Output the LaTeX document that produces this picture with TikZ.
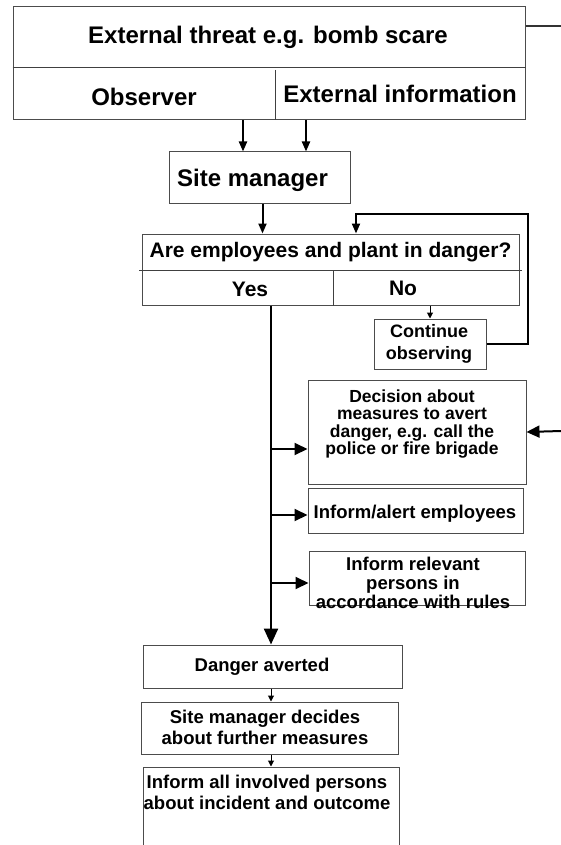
\documentclass[tikz,border=0pt]{standalone}
\usepackage{fontspec}
\setmainfont{Liberation Sans}
\usetikzlibrary{arrows.meta}
\newcommand{\fsz}[2]{\bfseries\fontsize{#1}{#2}\selectfont}
\begin{document}
\begin{tikzpicture}[x=1pt,y=-1pt,
  box/.style={draw=black!70, line width=1pt, inner sep=0pt, rectangle},
  txt/.style={inner sep=0pt, align=center},
  conn/.style={line width=2pt, -{Triangle[length=10pt,width=8pt]}},
  sideconn/.style={line width=2pt, -{Triangle[length=13pt,width=12pt]}},
  bigconn/.style={line width=2.4pt, -{Triangle[length=16pt,width=14pt]}},
  small/.style={line width=1pt, -{Triangle[length=6pt,width=6pt]}},
  divider/.style={draw=black!75, line width=1pt},
]
\useasboundingbox (0,0) rectangle (561,845);
\fill[white] (0,0) rectangle (561,845);

% boxes
\node[box, minimum width=512pt, minimum height=113pt] (top) at (269,63.5) {};
\node[box, minimum width=181pt, minimum height=51pt] (sitemgr) at (259.5,177.5) {};
\node[box, minimum width=377pt, minimum height=71pt] (question) at (330.5,269.5) {};
\node[box, minimum width=112pt, minimum height=50pt] (cont) at (430,344) {};
\node[box, minimum width=218pt, minimum height=104pt] (decision) at (417,432) {};
\node[box, minimum width=215pt, minimum height=45pt] (alert) at (415.5,510.5) {};
\node[box, minimum width=216pt, minimum height=54pt] (relevant) at (417,578) {};
\node[box, minimum width=259pt, minimum height=43pt] (averted) at (272.5,666.5) {};
\node[box, minimum width=257pt, minimum height=52pt] (further) at (269.5,728) {};
\begin{scope}
\clip (0,0) rectangle (561,845);
\node[box, minimum width=256pt, minimum height=110pt] (informall) at (271,822) {};
\end{scope}

% dividers
\draw[divider] (top.west |- 0,68) -- (top.east |- 0,68);
\draw[divider] (275,70) -- (top.south -| 275,0);
\draw[divider] (139,270) -- (522,270);
\draw[divider] (333,270) -- (question.south -| 333,0);

% texts
\node[txt, font=\fsz{24}{26}] (threat) at (268,37) {External threat e.g. bomb scare};
\node[txt, font=\fsz{24}{26}] (observer) at (144,97) {Observer};
\node[txt, font=\fsz{24}{26}] (extinfo) at (400,94) {External information};
\node[txt, font=\fsz{24}{26}, anchor=west] (sitemgrtxt) at (177,180) {Site manager};
\node[txt, font=\fsz{21}{23}] (questiontxt) at (330.5,252) {Are employees and plant in danger?};
\node[txt, font=\fsz{21}{23}] (yes) at (250,289) {Yes};
\node[txt, font=\fsz{21}{23}] (no) at (403,288) {No};
\node[txt, font=\fsz{18}{22}] (conttxt) at (429,344) {Continue\\observing};
\node[txt, font=\fsz{17.5}{17.3}] (decisiontxt) at (412,424) {Decision about\\measures to avert\\danger, e.g. call the\\police or fire brigade};
\node[txt, font=\fsz{18.5}{20}] (alerttxt) at (415,514) {Inform/alert employees};
\node[txt, font=\fsz{18.5}{19}] (relevanttxt) at (413,583) {Inform relevant\\persons in\\accordance with rules};
\node[txt, font=\fsz{18.5}{20}] (avertedtxt) at (262,667) {Danger averted};
\node[txt, font=\fsz{18.5}{21}] (furthertxt) at (265,727) {Site manager decides\\about further measures};
\node[txt, font=\fsz{18.5}{21}] (informalltxt) at (267,792) {Inform all involved persons\\about incident and outcome};

% coordinates
\coordinate (tr) at (561,26);
\coordinate (ext) at (561,431);
\coordinate (lp) at (528,214);
\coordinate (b1) at (271,449);
\coordinate (b2) at (271,515);
\coordinate (b3) at (271,583);

% connectors
\draw[line width=1.5pt, black!80] (top.east |- tr) -- (tr);
\draw[conn] ([xshift=-26pt]top.south) -- ([xshift=-26pt]top.south |- sitemgr.north);
\draw[conn] ([xshift=37pt]top.south) -- ([xshift=37pt]top.south |- sitemgr.north);
\draw[conn] ([xshift=3pt]sitemgr.south) -- ([xshift=3pt]sitemgr.south |- question.north);
\draw[small] (cont.north |- question.south) -- (cont.north);
\draw[conn] (cont.east) -| (lp) -| ([xshift=25.5pt]question.north);
\draw[bigconn] ([xshift=-59.5pt]question.south) -- ([xshift=-59.5pt]question.south |- averted.north);
\draw[sideconn] (b1) -- (b1 -| decision.west);
\draw[sideconn] (b2) -- (b2 -| alert.west);
\draw[sideconn] (b3) -- (b3 -| relevant.west);
\draw[sideconn] (ext) -- (decision.east);
\draw[small] ([xshift=-1.5pt]averted.south) -- ([xshift=-1.5pt]averted.south |- further.north);
\draw[small] ([xshift=1.5pt]further.south) -- ([xshift=1.5pt]further.south |- informall.north);
\end{tikzpicture}
\end{document}
